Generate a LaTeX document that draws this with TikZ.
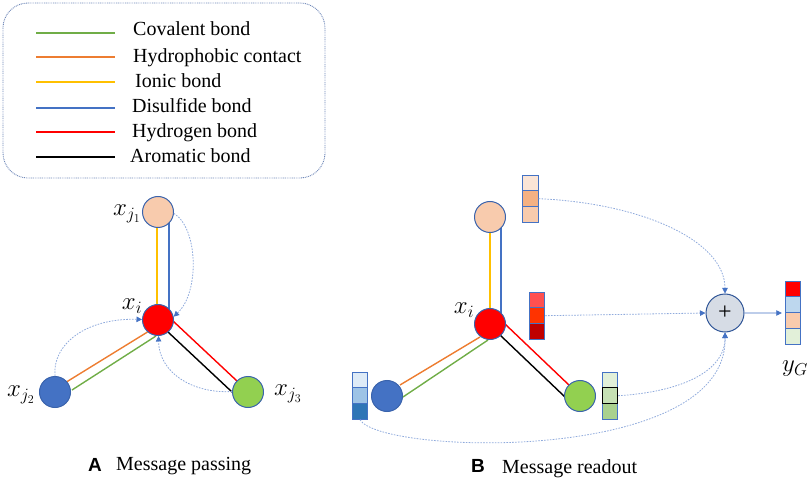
\documentclass[tikz,border=0pt]{standalone}
\usepackage{fontspec}
\setmainfont{Liberation Serif}
\newfontfamily\labsans{Liberation Sans}
\usetikzlibrary{arrows.meta,backgrounds}
\definecolor{covc}{HTML}{70AD47}
\definecolor{hydc}{HTML}{ED7D31}
\definecolor{ionc}{HTML}{FFC000}
\definecolor{disc}{HTML}{4472C4}
\definecolor{hbc}{HTML}{FF0000}
\definecolor{nodeb}{HTML}{3A63AC}
\definecolor{peach}{HTML}{F8CBAD}
\definecolor{nblue}{HTML}{4472C4}
\definecolor{ngreen}{HTML}{92D050}
\definecolor{cellb}{HTML}{4472C4}
\definecolor{msgc}{HTML}{8FAADC}
\definecolor{arrc}{HTML}{4472C4}
\definecolor{legb}{HTML}{6F88B8}
\definecolor{plusf}{HTML}{D6DCE5}
\definecolor{plusb}{HTML}{2F5597}
\begin{document}
\begin{tikzpicture}[x=1pt,y=-1pt,
  atom/.style={circle,draw=nodeb,line width=1pt,minimum size=31pt,inner sep=0pt},
  bond/.style={line width=1.4pt},
  legline/.style={line width=1.3pt},
  msg/.style={draw=msgc,line width=0.8pt,dash pattern=on 1.6pt off 1.3pt,
    -{Triangle[length=5.5pt,width=5.5pt,fill=arrc,color=arrc]}},
  outarrow/.style={draw=arrc,line width=0.8pt,shorten >=3pt,
    -{Triangle[length=5.5pt,width=5.5pt,fill=arrc,color=arrc]}},
  cell/.style={rectangle,draw=cellb,line width=0.9pt,minimum width=15.5pt,minimum height=15.7pt,inner sep=0pt},
  legtext/.style={anchor=base west,font=\fontsize{20}{24}\selectfont,inner sep=0pt},
  lab/.style={font=\fontsize{24}{28}\selectfont,inner sep=0pt},
  ttl/.style={anchor=base west,font=\fontsize{20}{24}\selectfont,inner sep=0pt},
  ttlletter/.style={anchor=base west,font=\labsans\bfseries\fontsize{19}{22}\selectfont,inner sep=0pt}
]
\useasboundingbox (0,0) rectangle (809,481);

% legend
\draw[legb,line width=0.9pt,dash pattern=on 0.9pt off 0.9pt,rounded corners=25pt] (3,3) rectangle (325,178);
\coordinate (l1a) at (36,33);  \coordinate (l1b) at (115,33);
\coordinate (l2a) at (36,57);  \coordinate (l2b) at (115,57);
\coordinate (l3a) at (36,82);  \coordinate (l3b) at (115,82);
\coordinate (l4a) at (36,108); \coordinate (l4b) at (115,108);
\coordinate (l5a) at (36,132); \coordinate (l5b) at (115,132);
\coordinate (l6a) at (36,157); \coordinate (l6b) at (115,157);
\draw[legline,covc] (l1a) -- (l1b);
\draw[legline,hydc] (l2a) -- (l2b);
\draw[legline,ionc] (l3a) -- (l3b);
\draw[legline,disc] (l4a) -- (l4b);
\draw[legline,hbc] (l5a) -- (l5b);
\draw[legline,black] (l6a) -- (l6b);
\node[legtext] (t1) at (133,36) {Covalent bond};
\node[legtext] (t2) at (133,62.5) {Hydrophobic contact};
\node[legtext] (t3) at (135,87.5) {Ionic bond};
\node[legtext] (t4) at (132,113) {Disulfide bond};
\node[legtext] (t5) at (132,137.5) {Hydrogen bond};
\node[legtext] (t6) at (130,162.5) {Aromatic bond};

% ---------- A ----------
\node[atom,fill=peach] (j1) at (158,212) {};
\node[atom,fill=hbc] (i) at (158,320) {};
\node[atom,fill=nblue] (j2) at (55,392) {};
\node[atom,fill=ngreen] (j3) at (248,392) {};
\begin{pgfonlayer}{background}
\draw[bond,ionc] ([xshift=-1pt]j1.center) -- ([xshift=-1pt]i.center);
\draw[bond,disc] ([xshift=11pt]j1.center) -- ([xshift=11pt]i.center);
\draw[bond,hydc] ([shift={(11.4,-10)}]j2.center) -- ([shift={(-10,11.7)}]i.center);
\draw[bond,covc] ([shift={(17,-2)}]j2.center) -- ([shift={(-2,16)}]i.center);
\draw[bond,hbc] ([shift={(15,1)}]i.center) -- ([shift={(-11,-11)}]j3.center);
\draw[bond,black] ([shift={(10,12)}]i.center) -- ([shift={(-16,0)}]j3.center);
\end{pgfonlayer}
\node[lab] (lj1) at (127,214) {$x_{j_1}$};
\node[lab] (li) at (132,306) {$x_i$};
\node[lab] (lj2) at (21,395) {$x_{j_2}$};
\node[lab] (lj3) at (288,394) {$x_{j_3}$};
\draw[msg] (j1.-5) .. controls (198,228) and (200,292) .. (i.12);
\draw[msg] (j2.90) .. controls (52,345) and (85,318) .. (i.178);
\draw[msg] (j3.178) .. controls (195,394) and (159,374) .. (i.-88);
\node[ttlletter] (A) at (88,471.5) {A};
\node[ttl] (Atxt) at (116,470.5) {Message passing};

% ---------- B ----------
\node[atom,fill=peach] (bj1) at (490,217) {};
\node[atom,fill=hbc] (bi) at (490,324) {};
\node[atom,fill=nblue] (bj2) at (387,396) {};
\node[atom,fill=ngreen] (bj3) at (580,396) {};
\begin{pgfonlayer}{background}
\draw[bond,ionc] (bj1.center) -- (bi.center);
\draw[bond,disc] ([xshift=11pt]bj1.center) -- ([xshift=11pt]bi.center);
\draw[bond,hydc] ([shift={(13,-11)}]bj2.center) -- ([shift={(-10,13)}]bi.center);
\draw[bond,covc] ([shift={(16,1)}]bj2.center) -- ([shift={(-2,16)}]bi.center);
\draw[bond,hbc] ([shift={(15,0)}]bi.center) -- ([shift={(-10,-10)}]bj3.center);
\draw[bond,black] ([shift={(10,11)}]bi.center) -- ([shift={(-15,1)}]bj3.center);
\end{pgfonlayer}
\node[lab] (lbi) at (464,310) {$x_i$};

% stacks
\node[cell,fill={rgb,255:red,251;green,229;blue,214}] (p1) at (530.5,183) {};
\node[cell,fill={rgb,255:red,244;green,177;blue,131}] (p2) at (530.5,198.7) {};
\node[cell,fill={rgb,255:red,248;green,203;blue,173}] (p3) at (530.5,214.4) {};

\node[cell,fill={rgb,255:red,255;green,80;blue,80}] (r1) at (537,300) {};
\node[cell,fill={rgb,255:red,255;green,51;blue,0}] (r2) at (537,315.7) {};
\node[cell,fill={rgb,255:red,192;green,0;blue,0}] (r3) at (537,331.4) {};

\node[cell,fill={rgb,255:red,222;green,235;blue,247}] (b1) at (360,380) {};
\node[cell,fill={rgb,255:red,157;green,195;blue,230}] (b2) at (360,395.7) {};
\node[cell,fill={rgb,255:red,46;green,117;blue,182}] (b3) at (360,411.4) {};

\node[cell,fill={rgb,255:red,226;green,240;blue,217}] (g1) at (610,380) {};
\node[cell,fill={rgb,255:red,169;green,209;blue,142}] (g3) at (610,411.4) {};
\node[cell,draw=black,fill={rgb,255:red,197;green,224;blue,180}] (g2) at (610,395.7) {};

\node[cell,fill={rgb,255:red,255;green,0;blue,0}] (y1) at (793,289) {};
\node[cell,fill={rgb,255:red,189;green,215;blue,238}] (y2) at (793,304.7) {};
\node[cell,fill={rgb,255:red,248;green,203;blue,173}] (y3) at (793,320.4) {};
\node[cell,fill={rgb,255:red,226;green,240;blue,217}] (y4) at (793,336.1) {};
\node[lab] (lyg) at (795,369) {$y_G$};

\node[circle,draw=plusb,fill=plusf,line width=1pt,minimum size=38pt,inner sep=0pt,
      font=\fontsize{24}{26}\selectfont] (plus) at (725,313) {+};

\draw[msg] (p2.east) .. controls (640,203) and (725,240) .. (plus.north);
\draw[msg] (r2.east) -- (plus.west);
\draw[msg] (g2.east) .. controls (680,392) and (725,372) .. (plus.south);
\draw[msg] (b3.south) .. controls (380,455) and (728,465) .. (plus.south);
\draw[outarrow] (plus.east) -- (y2.south west);

\node[ttlletter] (B) at (471,472) {B};
\node[ttl] (Btxt) at (502,473) {Message readout};
\end{tikzpicture}
\end{document}
